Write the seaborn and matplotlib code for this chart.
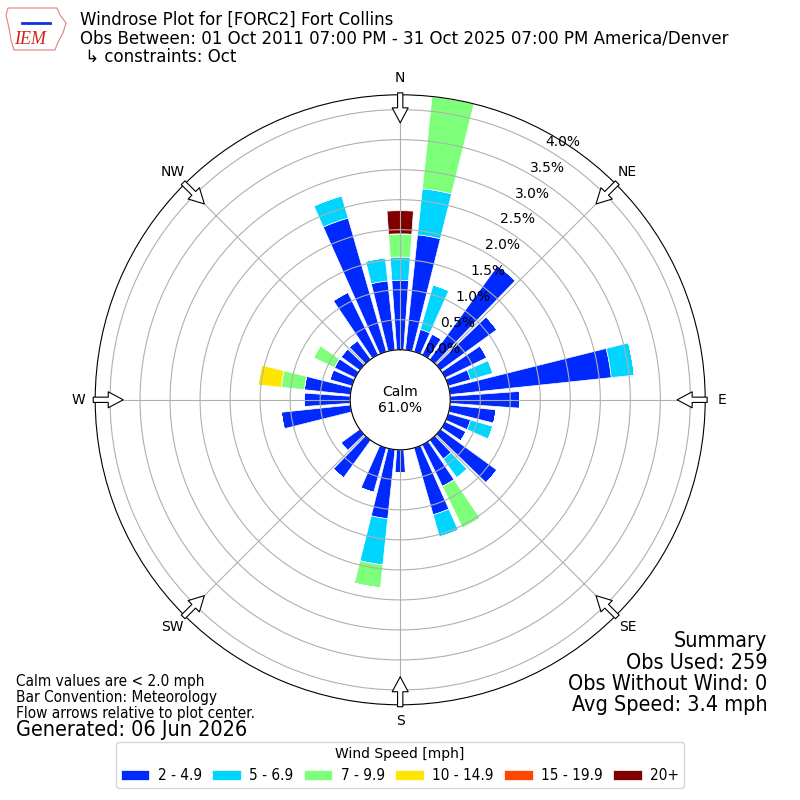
import numpy as np
import matplotlib
matplotlib.use('Agg')
import matplotlib.pyplot as plt
import seaborn as sns
from matplotlib import font_manager as fm
from matplotlib.patches import Polygon

# Observation counts per 10 degree direction bin (0, 10, ..., 350), one list per speed class
directions = list(range(0, 360, 10))
obs_used = 259
speed_labels = ['2 - 4.9', '5 - 6.9', '7 - 9.9', '10 - 14.9', '15 - 19.9', '20+']
cnt_2_5 = [3, 5, 1, 1, 5, 3, 2, 1, 7, 3, 2, 1, 1, 3, 1, 2, 3, 0,
           1, 3, 2, 0, 2, 1, 0, 0, 3, 2, 2, 1, 1, 1, 1, 3, 6, 3]
cnt_5_7 = [1, 2, 2, 0, 0, 0, 0, 1, 1, 0, 0, 1, 0, 0, 1, 0, 1, 0,
           0, 2, 0, 0, 0, 0, 0, 0, 0, 0, 0, 0, 0, 0, 0, 0, 1, 1]
cnt_7_10 = [1, 4, 0, 0, 0, 0, 0, 0, 0, 0, 0, 0, 0, 0, 0, 2, 0, 0,
            0, 1, 0, 0, 0, 0, 0, 0, 0, 0, 1, 0, 1, 0, 0, 0, 0, 0]
cnt_10_15 = [0, 0, 0, 0, 0, 0, 0, 0, 0, 0, 0, 0, 0, 0, 0, 0, 0, 0,
             0, 0, 0, 0, 0, 0, 0, 0, 0, 0, 1, 0, 0, 0, 0, 0, 0, 0]
cnt_15_20 = [0] * 36
cnt_20p = [1, 0, 0, 0, 0, 0, 0, 0, 0, 0, 0, 0, 0, 0, 0, 0, 0, 0,
           0, 0, 0, 0, 0, 0, 0, 0, 0, 0, 0, 0, 0, 0, 0, 0, 0, 0]
counts = [cnt_2_5, cnt_5_7, cnt_7_10, cnt_10_15, cnt_15_20, cnt_20p]
calm_pct = 61.0
compass = ['N', 'NE', 'E', 'SE', 'S', 'SW', 'W', 'NW']

palette = sns.color_palette(list(plt.get_cmap('jet')(np.linspace(0, 1, 7)[1:])))


def narrow_family():
    for fam in ['DejaVu Sans Condensed', 'Liberation Sans Narrow']:
        try:
            fm.findfont(fm.FontProperties(family=fam), fallback_to_default=False)
            return fam
        except ValueError:
            pass
    return 'DejaVu Sans'


NARROW = narrow_family()
plt.rcParams['font.family'] = ['DejaVu Sans']

fig = plt.figure(figsize=(8, 8), dpi=100)
ax = fig.add_axes([0.119, 0.119, 0.7625, 0.7625], projection='polar')
ax.set_theta_zero_location('N')
ax.set_theta_direction(-1)

theta = np.deg2rad(directions)
width = np.deg2rad(10) * 0.8
bottom = np.zeros(len(directions))
for lab, cnt, col in zip(speed_labels, counts, palette):
    pct = np.array(cnt) / obs_used * 100.0
    ax.bar(theta, pct, width=width, bottom=bottom, color=col, edgecolor='white',
           linewidth=0.5, label=lab)
    bottom += pct

rmax = bottom.max()
ax.set_ylim(0, rmax)
ax.set_rorigin(-0.8333)
rt = np.arange(0, 4.01, 0.5)
ax.set_rgrids(rt, labels=[f'{v:.1f}%' for v in rt], angle=30, fontsize=10)
ax.set_thetagrids(range(0, 360, 45), labels=compass, fontsize=10)
ax.tick_params(axis='x', pad=1.5)
ax.grid(True, color='#b0b0b0', linewidth=0.8)

# flow arrows at the compass points
for ang in range(0, 360, 45):
    th = np.deg2rad(ang)
    ax.annotate('', xy=(th, 3.78), xytext=(th, 4.28), annotation_clip=False,
                arrowprops=dict(arrowstyle='simple,head_length=1.08,head_width=1.15,tail_width=0.38',
                                fc='white', ec='black', lw=0.8, mutation_scale=10,
                                shrinkA=0, shrinkB=0), zorder=5)

ax.text(0.5, 0.5, f'Calm\n{calm_pct:.1f}%', transform=ax.transAxes,
        ha='center', va='center', fontsize=10)

fig.text(0.1, 0.986, 'Windrose Plot for [FORC2] Fort Collins\n'
         'Obs Between: 01 Oct 2011 07:00 PM - 31 Oct 2025 07:00 PM America/Denver\n'
         ' \u21b3 constraints: Oct', va='top', ha='left', fontsize=12, linespacing=1.03)

# simple IEM badge
iowa = [(8, 8), (57, 8), (60, 15), (66, 23), (63, 33), (58, 42), (55, 50),
        (14, 50), (11, 40), (9, 28), (6, 15)]
fig.patches.append(Polygon([(x / 800, 1 - y / 800) for x, y in iowa], closed=True,
                           transform=fig.transFigure, fill=False, ec='#e08080', lw=0.8))
fig.text(0.0375, 1 - 39 / 800, 'IEM', color='#d02020', fontsize=13, style='italic',
         family='Liberation Serif', ha='center', va='center')
fig.lines.append(plt.Line2D([22 / 800, 50 / 800], [1 - 23 / 800, 1 - 23 / 800],
                            transform=fig.transFigure, color='#1030e0', lw=2))

fig.text(0.02, 0.158, 'Calm values are < 2.0 mph\nBar Convention: Meteorology\n'
         'Flow arrows relative to plot center.', va='top', ha='left', fontsize=11,
         family=NARROW, stretch='condensed', linespacing=1.09)
fig.text(0.02, 0.087, 'Generated: 06 Jun 2026', va='center', ha='left', fontsize=15.5,
         family=NARROW, stretch='condensed')
fig.text(0.959, 0.106, 'Summary\nObs Used: 259\nObs Without Wind: 0\nAvg Speed: 3.4 mph',
         va='bottom', ha='right', fontsize=15.5, family=NARROW, stretch='condensed',
         linespacing=1.08)

handles, labels = ax.get_legend_handles_labels()
leg = fig.legend(handles, labels, loc='lower center', bbox_to_anchor=(0.5, 0.015),
                 borderaxespad=0, borderpad=0.3,
                 ncol=6, title='Wind Speed [mph]', title_fontsize=10,
                 handlelength=1.85, handletextpad=0.55, columnspacing=0.7,
                 prop={'family': NARROW, 'stretch': 'condensed', 'size': 11})
leg.get_title().set_family(NARROW)

fig.savefig('out.png', dpi=100)
